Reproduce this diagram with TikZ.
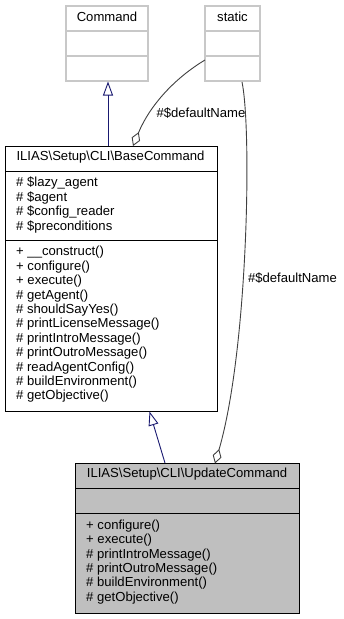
\documentclass[tikz,border=0pt]{standalone}
\usepackage{fontspec}
\setmainfont{Liberation Sans}
\usetikzlibrary{arrows.meta}
\definecolor{edgeblue}{HTML}{191970}
\definecolor{edgegrey}{HTML}{404040}
\definecolor{boxgrey}{HTML}{BFBFBF}
\definecolor{lightborder}{HTML}{C8C8C8}
\begin{document}
\begin{tikzpicture}[x=1pt,y=-1pt,
  every node/.style={font=\fontsize{13.1}{14.4}\selectfont, inner sep=0pt},
  classbox/.style={draw=black, line width=1pt, fill=white, minimum width=#1},
  extbox/.style={draw=lightborder, line width=1.3pt, fill=white},
  txt/.style={anchor=west, align=left},
  inherit/.style={draw=edgeblue, line width=0.9pt, -{Triangle[open,length=14pt,width=10pt]}},
  aggr/.style={draw=edgegrey, line width=0.9pt, -{Diamond[open,length=15pt,width=9pt]}},
  elabel/.style={font=\fontsize{13.1}{14.4}\selectfont}
]
\useasboundingbox (0,0) rectangle (343,619);
% Command
\node[extbox, minimum width=82pt, minimum height=75pt] (cmd) at (107,43.5) {};
\draw[lightborder, line width=1.3pt] (66,31) -- (148,31) (66,56) -- (148,56);
\node (cmdt) at (107,17) {Command};
% static
\node[extbox, minimum width=55pt, minimum height=75pt] (stat) at (232.5,43.5) {};
\draw[lightborder, line width=1.3pt] (205,31) -- (260,31) (205,56) -- (260,56);
\node (statt) at (232.5,17) {static};
% BaseCommand
\node[classbox=212pt, minimum height=265pt] (base) at (111,278.5) {};
\draw[black, line width=1pt] (5,171) -- (217,171) (5,240) -- (217,240);
\node (baset) at (110.5,157) {ILIAS\textbackslash Setup\textbackslash CLI\textbackslash BaseCommand};
\node[txt] (basea) at (16,205) {\# \$lazy\_agent\\\# \$agent\\\# \$config\_reader\\\# \$preconditions};
\node[txt] (baseo) at (16,324.5) {+ \_\_construct()\\+ configure()\\+ execute()\\\# getAgent()\\\# shouldSayYes()\\\# printLicenseMessage()\\\# printIntroMessage()\\\# printOutroMessage()\\\# readAgentConfig()\\\# buildEnvironment()\\\# getObjective()};
% UpdateCommand
\node[draw=black, line width=1pt, fill=boxgrey, minimum width=224pt, minimum height=150pt] (upd) at (187,538) {};
\draw[black, line width=1pt] (75,488) -- (299,488) (75,513) -- (299,513);
\node (updt) at (187,474) {ILIAS\textbackslash Setup\textbackslash CLI\textbackslash UpdateCommand};
\node[txt] (updo) at (86,562) {+ configure()\\+ execute()\\\# printIntroMessage()\\\# printOutroMessage()\\\# buildEnvironment()\\\# getObjective()};
% edges
\coordinate (baseTop) at (108,146);
\coordinate (cmdBot) at (108,81.5);
\draw[inherit] (baseTop) -- (cmdBot);
\coordinate (updTop) at (165,463);
\coordinate (baseBot) at (149.5,411.5);
\draw[inherit] (updTop) -- (baseBot);
\coordinate (statL) at (205,60);
\coordinate (baseDia) at (133,146);
\draw[aggr] (statL) .. controls (175,78) and (150,105) .. (baseDia);
\node[elabel] (lab1) at (201,113) {\#\$defaultName};
\coordinate (statB) at (242,82);
\coordinate (updDia) at (215,463.5);
\draw[aggr] (statB) .. controls (252,130) and (248,350) .. (updDia);
\node[elabel] (lab2) at (292.5,278) {\#\$defaultName};
\end{tikzpicture}
\end{document}
